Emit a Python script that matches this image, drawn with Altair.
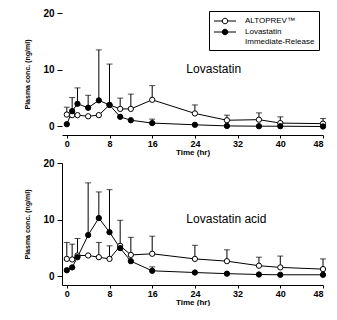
import altair as alt
import pandas as pd

times = [0, 1, 2, 4, 6, 8, 10, 12, 16, 24, 30, 36, 40, 48]
series_names = ["ALTOPREV™", "Lovastatin Immediate-Release"]

# Top panel: Lovastatin
top_alto = [2.1, 2.0, 2.0, 1.8, 2.0, 3.8, 3.1, 3.1, 4.7, 2.3, 1.1, 1.2, 0.6, 0.5]
top_ir = [0.4, 2.7, 4.0, 3.3, 4.6, 3.8, 1.7, 1.1, 0.6, 0.3, 0.1, 0.05, 0.05, 0.0]
top_alto_upper = [3.4, None, None, None, None, 11.0, 5.0, 5.7, 7.2, 3.8, 2.0, 2.4, 1.7, 1.4]
top_ir_upper = [None, 5.1, 6.8, 5.5, 13.5, None, None, None, 1.3, None, None, None, None, None]

# Bottom panel: Lovastatin acid
bot_alto = [3.1, 3.0, 3.7, 3.7, 3.4, 3.1, 5.4, 3.8, 4.0, 3.1, 2.7, 1.9, 1.6, 1.3]
bot_ir = [1.1, 1.6, 3.4, 7.3, 10.3, 7.8, 5.0, 2.7, 1.0, 0.7, 0.5, 0.35, 0.3, 0.3]
bot_alto_upper = [6.0, 5.7, None, None, 6.0, 5.4, None, 6.9, 7.1, 5.5, 4.7, 3.4, 3.6, 3.1]
bot_ir_upper = [None, None, 6.7, 16.5, 14.9, 15.3, 9.9, None, 1.7, None, None, None, None, None]

x_ticks = [0, 8, 16, 24, 32, 40, 48]
y_ticks = [0, 5, 10, 15, 20]

FONT = "Liberation Sans"
LEG_PATH = ("M -2 0 L -0.5 0 M 0.5 0 L 2 0 "
            "M -0.5 0 A 0.5 0.5 0 1 0 0.5 0 A 0.5 0.5 0 1 0 -0.5 0 Z")


def build_df(alto, ir, alto_up, ir_up):
    rows = []
    for name, vals, ups in [(series_names[0], alto, alto_up), (series_names[1], ir, ir_up)]:
        for t, v, u in zip(times, vals, ups):
            rows.append({"series": name, "time": t, "value": v, "upper": u})
    return pd.DataFrame(rows)


def panel(df, label, label_t, label_v, legend, y_domain_line):
    xs = alt.Scale(domain=[-0.9, 48], nice=False, zero=False)
    ys = alt.Scale(domain=[-1.5, 20], nice=False, zero=False)
    x = alt.X("time:Q", scale=xs,
              axis=alt.Axis(values=x_ticks, title="Time (hr)", grid=False, tickSize=3,
                            labelPadding=1, titlePadding=0, labelFontWeight="bold",
                            labelFontSize=9, titleFontSize=8, titleFontWeight="bold",
                            labelFont=FONT, titleFont=FONT, domainColor="black",
                            tickColor="black", labelColor="black", titleColor="black"))
    y = alt.Y("value:Q", scale=ys,
              axis=alt.Axis(values=y_ticks, title="Plasma conc. (ng/ml)", grid=False,
                            tickSize=5, labelPadding=3, titlePadding=12, domain=y_domain_line,
                            labelFontWeight="bold", labelFontSize=10, titleFontSize=7,
                            titleFontWeight="bold", labelFont=FONT, titleFont=FONT,
                            domainColor="black", tickColor="black", labelColor="black",
                            titleColor="black"))
    base = alt.Chart(df)
    lines = base.mark_line(color="black", strokeWidth=1).encode(x=x, y=y, detail="series:N")
    err = base.transform_filter("isValid(datum.upper)").mark_rule(
        color="black", strokeWidth=1).encode(x=x, y=y, y2="upper:Q")
    cap = base.transform_filter("isValid(datum.upper)").mark_tick(
        color="black", thickness=1, size=6, orient="horizontal").encode(
        x=x, y=alt.Y("upper:Q", scale=ys))
    if legend:
        leg = alt.Legend(title=None, orient="none", legendX=147, legendY=-2,
                         symbolType=LEG_PATH, symbolSize=121, symbolStrokeColor="black",
                         symbolStrokeWidth=1, symbolOffset=6, labelFont=FONT, labelFontSize=8,
                         labelColor="black", strokeColor="black", padding=4,
                         rowPadding=0, labelOffset=14,
                         labelExpr="datum.label == 'Lovastatin Immediate-Release' ? "
                                   "['Lovastatin', 'Immediate-Release'] : datum.label")
    else:
        leg = None
    pts = base.mark_point(shape="circle", size=28, filled=False, stroke="black",
                          strokeWidth=1, opacity=1).encode(
        x=x, y=y,
        fill=alt.Fill("series:N", scale=alt.Scale(domain=series_names, range=["white", "black"]),
                      legend=leg))
    txt = alt.Chart(pd.DataFrame({"t": [label_t], "v": [label_v], "s": [label]})).mark_text(
        align="left", baseline="middle", font=FONT, fontSize=12, color="black").encode(
        x=alt.X("t:Q", scale=xs), y=alt.Y("v:Q", scale=ys), text="s:N")
    return alt.layer(lines, err, cap, pts, txt).properties(width=261, height=122)


top = panel(build_df(top_alto, top_ir, top_alto_upper, top_ir_upper),
            "Lovastatin", 22.4, 10.1, True, False)
bottom = panel(build_df(bot_alto, bot_ir, bot_alto_upper, bot_ir_upper),
               "Lovastatin acid", 22.4, 10.2, False, True)

chart = alt.vconcat(top, bottom, spacing=2).resolve_scale(fill="independent").resolve_legend(
    fill="independent").properties(
    padding={"left": 15, "top": 0, "right": 0, "bottom": 0}
).configure_view(stroke=None)

chart.save("out.html", embed_options={"renderer": "svg", "actions": False})
